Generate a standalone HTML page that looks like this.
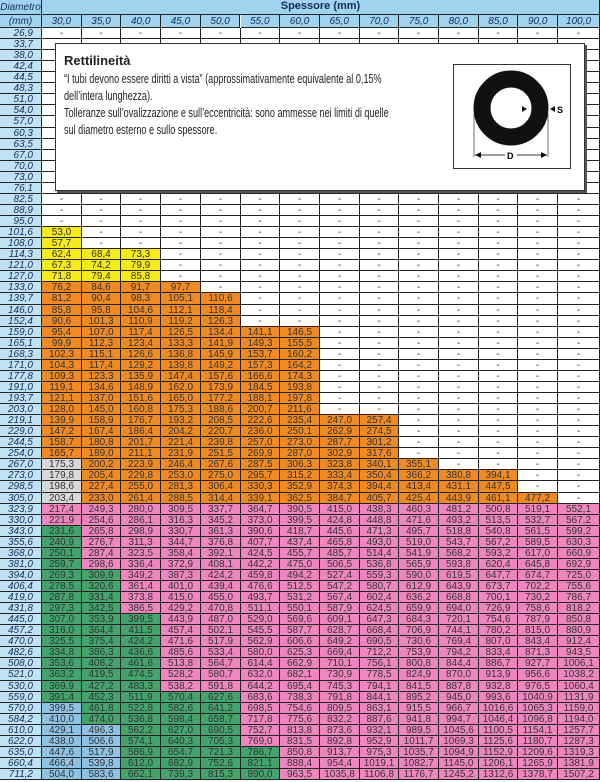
<!DOCTYPE html>
<html><head><meta charset="utf-8"><style>
body{margin:0;width:600px;height:782px;overflow:hidden;background:#fff;font-family:"Liberation Sans Narrow","Liberation Sans",sans-serif;}
#t{position:absolute;left:0;top:0;width:600px;height:782px;}
.c{position:absolute;box-sizing:border-box;border-right:1px solid #222;border-bottom:1px solid #222;font-size:10px;line-height:10px;text-align:center;color:#333;overflow:hidden;white-space:nowrap;}
.d{font-style:italic;color:#1a2a5a;background:#bfe3f5;text-align:right;padding-right:8px;}
.h{font-style:italic;background:#9fd3ee;color:#1a2a5a;}
#box{position:absolute;left:55px;top:43px;width:528px;height:146px;background:#fff;border:1px solid #333;box-shadow:2px 2px 0 #555;}
#box .tx{position:absolute;left:8px;font-size:13px;color:#222;white-space:nowrap;transform:scaleX(0.7);transform-origin:0 0;}
</style></head><body>
<div id="t"></div>
<div id="box">
<div class="tx" style="top:9px;font-weight:bold;font-size:13px;transform:none;">Rettilineità</div>
<div class="tx" style="top:27px;">“I tubi devono essere diritti a vista” (approssimativamente equivalente al 0,15%</div>
<div class="tx" style="top:44px;">dell’intera lunghezza).</div>
<div class="tx" style="top:61px;">Tolleranze sull’ovalizzazione e sull’eccentricità: sono ammesse nei limiti di quelle</div>
<div class="tx" style="top:78px;">sul diametro esterno e sullo spessore.</div>
<svg style="position:absolute;left:397px;top:20px" width="120" height="107">
<rect x="0.5" y="0.5" width="117" height="104" fill="#fff" stroke="#333"/>
<circle cx="58" cy="44" r="29" fill="none" stroke="#111" stroke-width="17"/>
<polygon points="69,42 74,45 69,48" fill="#111"/>
<polygon points="102,42 97,45 102,48" fill="#111"/>
<text x="104" y="49" font-size="9" font-weight="bold" font-family="Liberation Sans">S</text>
<line x1="21" y1="50" x2="21" y2="93" stroke="#333" stroke-width="0.7"/>
<line x1="95" y1="50" x2="95" y2="93" stroke="#333" stroke-width="0.7"/>
<line x1="22" y1="91" x2="52" y2="91" stroke="#333"/><line x1="64" y1="91" x2="94" y2="91" stroke="#333"/>
<polygon points="22,91 28,88 28,94" fill="#111"/><polygon points="94,91 88,88 88,94" fill="#111"/>
<text x="54" y="95" font-size="9" font-weight="bold" font-family="Liberation Sans">D</text>
</svg>
</div>
<script>
var D=[26.9,33.7,38.0,42.4,44.5,48.3,51.0,54.0,57.0,60.3,63.5,67.0,70.0,73.0,76.1,82.5,88.9,95.0,101.6,108.0,114.3,121.0,127.0,133.0,139.7,146.0,152.4,159.0,165.1,168.3,171.0,177.8,191.0,193.7,203.0,219.1,229.0,244.5,254.0,267.0,273.0,298.5,305.0,323.9,330.0,343.0,355.6,368.0,381.0,394.0,406.4,419.0,431.8,445.0,457.2,470.0,482.6,508.0,521.0,530.0,559.0,570.0,584.2,610.0,622.0,635.0,660.4,711.2];
var S=[30,35,40,45,50,55,60,65,70,75,80,85,90,100];
var start=[101.6,114.3,114.3,133.0,139.7,159.0,159.0,219.1,219.1,267.0,273.0,273.0,305.0,323.9];
var Y='#f4ea1c',O='#f08a24',G='#d9d9dc',P='#ef86bf',Gr='#43a56c',B='#8ec3e6';
function col(j,d){
 if(d<start[j])return '#fff';
 if(d<=127&&j<3)return Y;
 if(d<=305){ if(j==0&&d>=267)return G; return O;}
 var g=[343,394,445,559,559,635][j], b=[570,610][j];
 if(b&&d>=b)return B;
 if(g&&d>=g)return Gr;
 return P;
}
var xs=[0,42]; for(var k=1;k<=14;k++)xs.push(42+k*39.7);xs[15]=600;
var h='',rh=11.06,top0=28;
function cell(x,y,w,hh,cls,bg,txt){h+='<div class="c '+cls+'" style="left:'+x+'px;top:'+y+'px;width:'+w+'px;height:'+hh+'px;background:'+bg+';padding-top:'+Math.max(0,(hh-10)/2)+'px">'+txt+'</div>';}
cell(0,0,42,15,'h','#9fd3ee','Diametro');
cell(0,15,42,13,'h','#9fd3ee','(mm)');
h+='<div class="c h" style="left:42px;top:0;width:558px;height:15px;font-style:normal;font-weight:bold;font-size:11px;line-height:13px;">Spessore (mm)</div>';
for(var j=0;j<14;j++)cell(xs[j+1],15,xs[j+2]-xs[j+1],13,'h','#9fd3ee',S[j].toFixed(1).replace('.',','));
for(var i=0;i<D.length;i++){
 var y=top0+i*rh, y2=top0+(i+1)*rh, yy=Math.round(y), hh=Math.round(y2)-yy;
 cell(0,yy,42,hh,'d','#bfe3f5',D[i].toFixed(1).replace('.',','));
 for(var j=0;j<14;j++){
  var d=D[i],bg=col(j,d),t='-';
  if(d>=start[j]){t=(Math.round((d-S[j])*S[j]*0.2466)/10).toFixed(1).replace('.',',');}
  cell(Math.round(xs[j+1]),yy,Math.round(xs[j+2])-Math.round(xs[j+1]),hh,'',bg,t);
 }
}
document.getElementById('t').innerHTML=h;
</script>
</body></html>
